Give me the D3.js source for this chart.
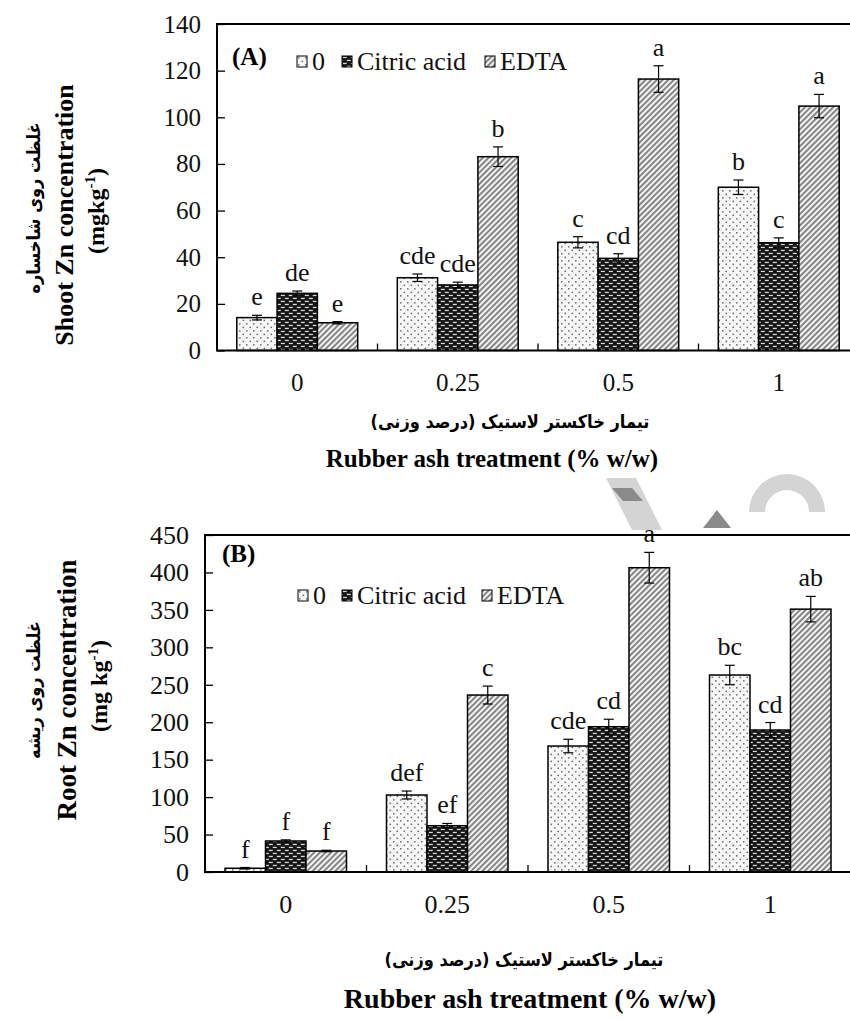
<!DOCTYPE html>
<html>
<head>
<meta charset="utf-8">
<script src="https://cdn.jsdelivr.net/npm/d3@7"></script>
<style>
  body { margin: 0; background: #fff; }
  svg { display: block; }
</style>
</head>
<body>
<div id="chart"></div>
<script>
// categories and series
const doses = ['0', '0.25', '0.5', '1'];
const seriesNames = ['0', 'Citric acid', 'EDTA'];

// shoot Zn (panel A)
const shootZero = [14.1, 31.2, 46.4, 70.0];
const shootCitric = [24.5, 28.1, 39.5, 46.2];
const shootEdta = [11.9, 83.1, 116.4, 104.8];
const shootZeroErr = [1.0, 1.6, 2.4, 3.1];
const shootCitricErr = [1.0, 1.2, 2.0, 2.1];
const shootEdtaErr = [0.5, 4.2, 5.7, 5.0];
const shootLetters = [['e', 'de', 'e'], ['cde', 'cde', 'b'], ['c', 'cd', 'a'], ['b', 'c', 'a']];
const shootTicks = [0, 20, 40, 60, 80, 100, 120, 140];

// root Zn (panel B)
const rootZero = [5, 102.8, 168.2, 263];
const rootCitric = [41.4, 61.8, 194, 189.6];
const rootEdta = [28, 236.3, 406.3, 351];
const rootZeroErr = [1, 5.3, 9, 13];
const rootCitricErr = [1.5, 3, 10, 10];
const rootEdtaErr = [1, 12, 20.5, 17];
const rootLetters = [['f', 'f', 'f'], ['def', 'ef', 'c'], ['cde', 'cd', 'a'], ['bc', 'cd', 'ab']];
const rootTicks = [0, 50, 100, 150, 200, 250, 300, 350, 400, 450];

const xTitleFa = 'تیمار خاکستر لاستیک (درصد وزنی)';
const xTitleEn = 'Rubber ash treatment (% w/w)';

const SERIF = '"Liberation Serif", "Times New Roman", serif';
const FA = '"DejaVu Sans Condensed", "DejaVu Sans", sans-serif';

const svg = d3.select('#chart').append('svg')
    .attr('width', 850)
    .attr('height', 1019)
    .style('font-family', SERIF);

svg.append('rect').attr('width', 850).attr('height', 1019).attr('fill', '#fff');

// fill patterns
const defs = svg.append('defs');

const dots = defs.append('pattern').attr('id', 'pat-0')
    .attr('patternUnits', 'userSpaceOnUse').attr('width', 7).attr('height', 7);
dots.append('rect').attr('width', 7).attr('height', 7).attr('fill', '#f7f7f7');
dots.append('circle').attr('cx', 1.8).attr('cy', 1.8).attr('r', 0.9).attr('fill', '#6e6e6e');
dots.append('circle').attr('cx', 5.3).attr('cy', 5.3).attr('r', 0.9).attr('fill', '#6e6e6e');

const bricks = defs.append('pattern').attr('id', 'pat-1')
    .attr('patternUnits', 'userSpaceOnUse').attr('width', 8).attr('height', 6);
bricks.append('rect').attr('width', 8).attr('height', 6).attr('fill', '#141414');
bricks.append('rect').attr('x', 0.8).attr('y', 0.8).attr('width', 4).attr('height', 1.3).attr('fill', '#d8d8d8');
bricks.append('rect').attr('x', 4.8).attr('y', 3.8).attr('width', 4).attr('height', 1.3).attr('fill', '#d8d8d8');
bricks.append('rect').attr('x', -3.2).attr('y', 3.8).attr('width', 4).attr('height', 1.3).attr('fill', '#d8d8d8');

const hatch = defs.append('pattern').attr('id', 'pat-2')
    .attr('patternUnits', 'userSpaceOnUse').attr('width', 4).attr('height', 4)
    .attr('patternTransform', 'rotate(45)');
hatch.append('rect').attr('width', 4).attr('height', 4).attr('fill', '#f3f3f3');
hatch.append('line').attr('x1', 1).attr('y1', 0).attr('x2', 1).attr('y2', 4)
    .attr('stroke', '#4a4a4a').attr('stroke-width', 1.3);

function drawPanel(p) {
    const g = svg.append('g');

    const x = d3.scaleBand().domain(doses).range([p.left, p.right]).padding(0);
    const y = d3.scaleLinear().domain([0, p.max]).range([p.bottom, p.top]);
    const barW = p.barW;

    // y axis, ticks pointing inside
    const yAxis = g.append('g')
        .attr('transform', `translate(${p.left},0)`)
        .call(d3.axisLeft(y).tickValues(p.ticks).tickSizeInner(-8).tickSizeOuter(0).tickPadding(p.tickPad));
    yAxis.attr('font-family', null).attr('font-size', null);
    yAxis.select('.domain').remove();
    yAxis.selectAll('line').attr('stroke', '#000').attr('stroke-width', 1.3);
    yAxis.selectAll('text').style('font-size', p.tickFont + 'px')
        .style('font-family', SERIF).attr('fill', '#111');

    // x axis labels
    const xAxis = g.append('g')
        .attr('transform', `translate(0,${p.bottom})`)
        .call(d3.axisBottom(x).tickSize(0).tickPadding(p.xPad));
    xAxis.attr('font-family', null).attr('font-size', null);
    xAxis.select('.domain').remove();
    xAxis.selectAll('text').style('font-size', p.tickFont + 'px')
        .style('font-family', SERIF).attr('fill', '#111');

    // group boundary ticks
    g.append('g').selectAll('line')
        .data(doses.slice(1))
        .join('line')
        .attr('x1', (d) => x(d)).attr('x2', (d) => x(d))
        .attr('y1', p.bottom).attr('y2', p.bottom - 7)
        .attr('stroke', '#000').attr('stroke-width', 1.3);

    // rows: one per bar
    const rows = [];
    doses.forEach((dose, i) => {
        p.values.forEach((vals, s) => {
            rows.push({
                dose: dose,
                s: s,
                value: vals[i],
                err: p.errors[s][i],
                letter: p.letters[i][s],
            });
        });
    });
    const bx = (d) => x(d.dose) + x.bandwidth() / 2 + (d.s - 1.5) * barW;

    g.append('g').selectAll('rect')
        .data(rows)
        .join('rect')
        .attr('x', bx)
        .attr('y', (d) => y(d.value))
        .attr('width', barW)
        .attr('height', (d) => p.bottom - y(d.value))
        .attr('fill', (d) => `url(#pat-${d.s})`)
        .attr('stroke', '#000')
        .attr('stroke-width', 1.5);

    // error bars
    const eb = g.append('g').attr('stroke', '#000').attr('stroke-width', 1.2);
    const cx = (d) => bx(d) + barW / 2;
    eb.selectAll('line.v').data(rows).join('line').attr('class', 'v')
        .attr('x1', cx).attr('x2', cx)
        .attr('y1', (d) => y(d.value - d.err)).attr('y2', (d) => y(d.value + d.err));
    eb.selectAll('line.t').data(rows).join('line').attr('class', 't')
        .attr('x1', (d) => cx(d) - 5).attr('x2', (d) => cx(d) + 5)
        .attr('y1', (d) => y(d.value + d.err)).attr('y2', (d) => y(d.value + d.err));
    eb.selectAll('line.b').data(rows).join('line').attr('class', 'b')
        .attr('x1', (d) => cx(d) - 5).attr('x2', (d) => cx(d) + 5)
        .attr('y1', (d) => y(d.value - d.err)).attr('y2', (d) => y(d.value - d.err));

    // significance letters
    g.append('g').selectAll('text')
        .data(rows)
        .join('text')
        .attr('x', cx)
        .attr('y', (d) => y(d.value + d.err) - 10)
        .attr('text-anchor', 'middle')
        .style('font-family', SERIF)
        .style('font-size', p.letterFont + 'px')
        .attr('fill', '#111')
        .text((d) => d.letter);

    // frame
    g.append('rect')
        .attr('x', p.left).attr('y', p.top)
        .attr('width', p.right - p.left).attr('height', p.bottom - p.top)
        .attr('fill', 'none').attr('stroke', '#000').attr('stroke-width', 2);

    // panel label and legend
    g.append('text').attr('x', p.labelX).attr('y', p.labelY)
        .style('font-family', SERIF)
        .style('font-size', '25px').style('font-weight', 'bold').text(p.label);

    const leg = g.append('g').selectAll('g')
        .data(seriesNames)
        .join('g')
        .attr('transform', (d, i) => `translate(${p.legendX[i]},${p.legendY})`);
    leg.append('rect')
        .attr('width', 10).attr('height', 11)
        .attr('fill', (d, i) => `url(#pat-${i})`)
        .attr('stroke', '#000').attr('stroke-width', 1);
    leg.append('text')
        .attr('x', 15).attr('y', 14)
        .style('font-family', SERIF)
        .style('font-size', '26px')
        .attr('fill', '#111')
        .text((d) => d);

    // axis titles
    const yt = g.append('g');
    yt.append('text')
        .attr('transform', `translate(${p.faX},${p.faY}) rotate(-90)`)
        .attr('text-anchor', 'middle').attr('direction', 'rtl')
        .style('font-family', FA)
        .style('font-size', '18px').style('font-weight', 'bold')
        .text(p.yFa);
    yt.append('text')
        .attr('transform', `translate(${p.enX},${p.titleY}) rotate(-90)`)
        .attr('text-anchor', 'middle')
        .style('font-family', SERIF)
        .style('font-size', p.titleFont + 'px').style('font-weight', 'bold')
        .text(p.yEn);
    const u = yt.append('text')
        .attr('transform', `translate(${p.unitX},${p.titleY - 4}) rotate(-90)`)
        .attr('text-anchor', 'middle')
        .style('font-family', SERIF)
        .style('font-size', '24px').style('font-weight', 'bold');
    u.append('tspan').text(p.unit);
    u.append('tspan').attr('dy', -9).style('font-size', '15px').text('-1');
    u.append('tspan').attr('dy', 9).text(')');

    g.append('text')
        .attr('x', p.xFaX).attr('y', p.xFaY)
        .attr('text-anchor', 'middle').attr('direction', 'rtl')
        .style('font-family', FA)
        .style('font-size', '18px').style('font-weight', 'bold')
        .text(xTitleFa);
    g.append('text')
        .attr('x', p.xEnX).attr('y', p.xEnY)
        .attr('text-anchor', 'middle')
        .style('font-family', SERIF)
        .style('font-size', p.xEnFont + 'px').style('font-weight', 'bold')
        .text(xTitleEn);
}

drawPanel({
    left: 217, right: 859, top: 24, bottom: 350.5, max: 140, barW: 40.3,
    ticks: shootTicks,
    values: [shootZero, shootCitric, shootEdta],
    errors: [shootZeroErr, shootCitricErr, shootEdtaErr],
    letters: shootLetters,
    tickFont: 25, tickPad: 16, xPad: 23, letterFont: 26,
    label: '(A)', labelX: 232, labelY: 65,
    legendX: [297, 342, 485], legendY: 56,
    faX: 40, faY: 208, enX: 73, unitX: 104, titleY: 215, titleFont: 26,
    yFa: 'غلظت روی شاخساره', yEn: 'Shoot Zn concentration', unit: '(mgkg',
    xFaX: 510, xFaY: 428, xEnX: 492, xEnY: 467, xEnFont: 25,
});

drawPanel({
    left: 205, right: 851, top: 535, bottom: 872, max: 450, barW: 40.5,
    ticks: rootTicks,
    values: [rootZero, rootCitric, rootEdta],
    errors: [rootZeroErr, rootCitricErr, rootEdtaErr],
    letters: rootLetters,
    tickFont: 26, tickPad: 16, xPad: 23, letterFont: 26,
    label: '(B)', labelX: 222, labelY: 562,
    legendX: [298, 342, 482], legendY: 590,
    faX: 40, faY: 690, enX: 76, unitX: 107, titleY: 690, titleFont: 27,
    yFa: 'غلظت روی ریشه', yEn: 'Root Zn concentration', unit: '(mg kg',
    xFaX: 524, xFaY: 966, xEnX: 530, xEnY: 1008, xEnFont: 28,
});

// faint logo marks between the panels
const mark = svg.append('g');
mark.append('polygon').attr('points', '606,478 636,478 662,530 632,530').attr('fill', '#d4d4d4');
mark.append('polygon').attr('points', '612,488 632,488 643,501 623,501').attr('fill', '#8a8a8a');
mark.append('polygon').attr('points', '717,510 703,528 731,528').attr('fill', '#8a8a8a');
mark.append('path')
    .attr('d', d3.arc()({ innerRadius: 22, outerRadius: 38, startAngle: -Math.PI / 2, endAngle: Math.PI / 2 }))
    .attr('transform', 'translate(787,512)')
    .attr('fill', '#d4d4d4');
</script>
</body>
</html>
